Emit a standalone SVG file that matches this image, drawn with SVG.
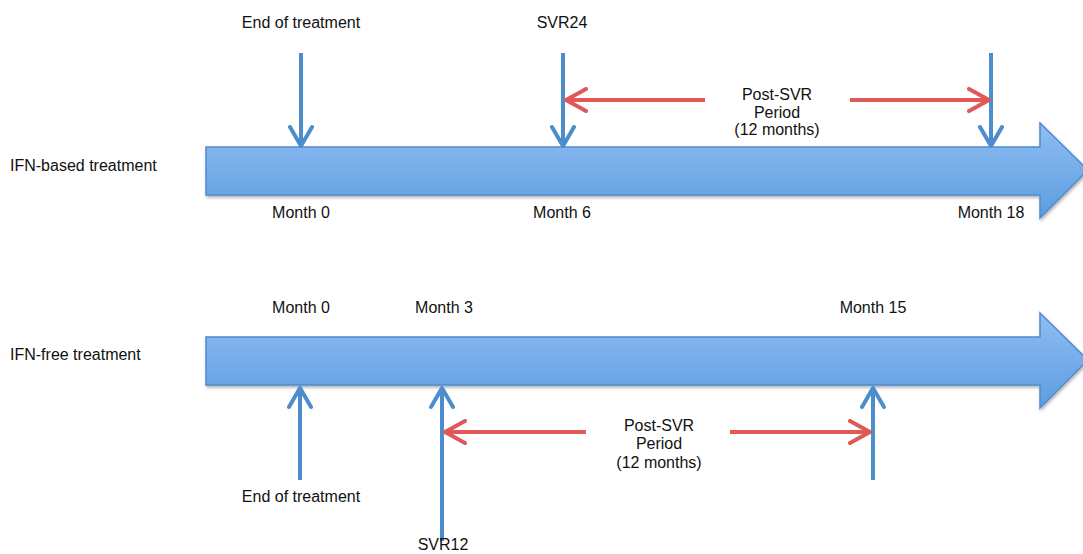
<svg xmlns="http://www.w3.org/2000/svg" width="1083" height="554" viewBox="0 0 1083 554">
<defs>
<linearGradient id="g" x1="0" y1="0" x2="0" y2="1">
<stop offset="0" stop-color="#8fbdf2"/>
<stop offset="1" stop-color="#5d9de0"/>
</linearGradient>
<filter id="sh" x="-5%" y="-20%" width="110%" height="140%">
<feDropShadow dx="1" dy="2" stdDeviation="1.5" flood-color="#000" flood-opacity="0.3"/>
</filter>
<marker id="mb" markerUnits="userSpaceOnUse" viewBox="-22 -13 26 26" markerWidth="26" markerHeight="26" refX="0" refY="0" orient="auto">
<path d="M-19,-11 L0,0 L-19,11" fill="none" stroke="#4b8dcd" stroke-width="4" stroke-linecap="round" stroke-linejoin="round"/>
</marker>
<marker id="mr" markerUnits="userSpaceOnUse" viewBox="-22 -13 26 26" markerWidth="26" markerHeight="26" refX="0" refY="0" orient="auto">
<path d="M-20,-11 L0,0 L-20,11" fill="none" stroke="#e05858" stroke-width="4" stroke-linecap="round" stroke-linejoin="round"/>
</marker>
</defs>
<style>
text{font-family:"Liberation Sans",Arial,sans-serif;font-size:16px;fill:#111;}
.c{text-anchor:middle;}
.big{fill:url(#g);stroke:#4f8bd0;stroke-width:1.5;filter:url(#sh);}
.b{fill:none;stroke:#4b8dcd;stroke-width:4;marker-end:url(#mb);}
.r{fill:none;stroke:#e05858;stroke-width:4;marker-end:url(#mr);}
</style>
<rect width="1083" height="554" fill="#fff"/>
<g id="timeline-ifn-based">
<path class="big" d="M206,147 L1040,147 L1040,123 L1088,170 L1040,218 L1040,195 L206,195 Z"/>
</g>
<g id="timeline-ifn-free">
<path class="big" d="M206,337 L1040,337 L1040,313 L1088,360 L1040,408 L1040,385 L206,385 Z"/>
</g>
<g id="connectors">
<line class="b" x1="301" y1="53" x2="301" y2="146"/>
<line class="b" x1="563" y1="53" x2="563" y2="146"/>
<line class="b" x1="991" y1="53" x2="991" y2="146"/>
<line class="r" x1="705" y1="100" x2="566" y2="100"/>
<line class="r" x1="850" y1="100" x2="989" y2="100"/>
<line class="b" x1="300" y1="480" x2="300" y2="388"/>
<line class="b" x1="442" y1="541" x2="442" y2="388"/>
<line class="b" x1="873" y1="480" x2="873" y2="388"/>
<line class="r" x1="586" y1="432" x2="445" y2="432"/>
<line class="r" x1="730" y1="432" x2="870" y2="432"/>
</g>
<g id="labels">
<text x="10" y="171">IFN-based treatment</text>
<text x="10" y="360">IFN-free treatment</text>
<text class="c" x="301" y="28">End of treatment</text>
<text class="c" x="562" y="28">SVR24</text>
<text class="c" x="777" y="100">Post-SVR</text>
<text class="c" x="777" y="118">Period</text>
<text class="c" x="777" y="135">(12 months)</text>
<text class="c" x="301" y="218">Month 0</text>
<text class="c" x="562" y="218">Month 6</text>
<text class="c" x="991" y="218">Month 18</text>
<text class="c" x="301" y="313">Month 0</text>
<text class="c" x="444" y="313">Month 3</text>
<text class="c" x="873" y="313">Month 15</text>
<text class="c" x="659" y="431">Post-SVR</text>
<text class="c" x="659" y="449">Period</text>
<text class="c" x="659" y="468">(12 months)</text>
<text class="c" x="301" y="502">End of treatment</text>
<text class="c" x="443" y="550">SVR12</text>
</g>
</svg>
